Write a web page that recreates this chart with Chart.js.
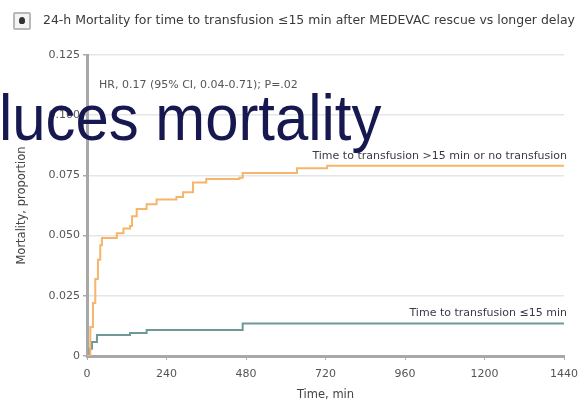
<!DOCTYPE html>
<html>
<head>
<meta charset="utf-8">
<script src="https://cdn.jsdelivr.net/npm/chart.js@4.4.1/dist/chart.umd.min.js"></script>
<style>
  html, body { margin: 0; padding: 0; background: #fff; }
  #wrap { position: relative; width: 578px; height: 402px; overflow: hidden; }
  canvas { position: absolute; left: 0; top: 0; }
  #icon { position: absolute; left: 13px; top: 12px; width: 14px; height: 14px;
          border: 2px solid #b8b8b8; border-radius: 2px; background: #f4f4f4; }
  #icon::after { content: ""; position: absolute; left: 4px; top: 3px; width: 6px; height: 7px;
          background: #333; border-radius: 50% 50% 40% 40%; }
  #title { position: absolute; left: 43px; top: 13px; font-family: "DejaVu Sans", Verdana, sans-serif;
           font-size: 11px; line-height: 14px; color: #3a3a3a; white-space: nowrap; }
  #overlay { position: absolute; left: -1px; top: 85px; font-family: "Liberation Sans", Arial, sans-serif;
             font-size: 65px; line-height: 65px; color: #17184f; white-space: nowrap;
             transform-origin: 0 0; }
</style>
</head>
<body>
<div id="wrap">
  <canvas id="c" width="578" height="402"></canvas>
  <div id="icon"></div>
  <div id="title">24-h Mortality for time to transfusion ≤15 min after MEDEVAC rescue vs longer delay</div>
  <div id="overlay">luces mortality</div>
</div>
<script>
// Cumulative 24-h mortality, step curves (time in minutes, proportion dead)
const lateTimes  = [0, 10, 18, 25, 33, 40, 45, 90, 110, 130, 136, 150, 180, 210, 270, 290, 320, 360, 460, 470, 634, 725, 1440];
const lateValues = [0, 0.012, 0.022, 0.032, 0.040, 0.046, 0.049, 0.051, 0.053, 0.054, 0.058, 0.061, 0.063, 0.065, 0.066, 0.068, 0.072, 0.0735, 0.074, 0.076, 0.078, 0.079, 0.079];
const earlyTimes  = [0, 8, 15, 30, 130, 180, 470, 1440];
const earlyValues = [0, 0.003, 0.0058, 0.0087, 0.0095, 0.0108, 0.0135, 0.0135];

const xTicks = [0, 240, 480, 720, 960, 1200, 1440];
const yTicks = [0, 0.025, 0.05, 0.075, 0.1, 0.125];

const lateLabel  = 'Time to transfusion >15 min or no transfusion';
const earlyLabel = 'Time to transfusion ≤15 min';
const hrText     = 'HR, 0.17 (95% CI, 0.04-0.71); P=.02';

const toPoints = (xs, ys) => xs.map((x, i) => ({ x, y: ys[i] }));

const lateColor = '#f5b56a';
const earlyColor = '#6f9898';
const FONT = '"DejaVu Sans", Verdana, sans-serif';

// Stretch the header line and the large caption to their widths
const title = document.getElementById('title');
title.style.fontSize = (11 * 532 / title.offsetWidth) + 'px';
const overlay = document.getElementById('overlay');
overlay.style.transform = 'scaleX(' + (382 / overlay.offsetWidth) + ')';

// Draws the curve labels at the end of each line and the hazard ratio note
const curveLabels = {
  id: 'curveLabels',
  afterDatasetsDraw(chart) {
    const { ctx, scales: { x, y }, chartArea } = chart;
    ctx.save();
    ctx.font = '11px ' + FONT;
    ctx.fillStyle = '#3a3a4a';
    ctx.textAlign = 'right';
    ctx.textBaseline = 'middle';
    const xr = x.getPixelForValue(1440) + 3;
    ctx.fillText(lateLabel, xr, y.getPixelForValue(lateValues[lateValues.length - 1]) - 10, 262);
    ctx.fillText(earlyLabel, xr, y.getPixelForValue(earlyValues[earlyValues.length - 1]) - 10, 164);
    ctx.textAlign = 'left';
    ctx.fillStyle = '#555';
    ctx.font = '11px ' + FONT;
    ctx.fillText(hrText, chartArea.left + 12, chartArea.top + 30, 212);
    ctx.restore();
  }
};

new Chart(document.getElementById('c'), {
  type: 'line',
  data: {
    datasets: [
      { data: toPoints(lateTimes, lateValues), borderColor: lateColor, borderWidth: 2,
        stepped: true, pointRadius: 0, fill: false },
      { data: toPoints(earlyTimes, earlyValues), borderColor: earlyColor, borderWidth: 2,
        stepped: true, pointRadius: 0, fill: false }
    ]
  },
  options: {
    responsive: false,
    animation: false,
    layout: { padding: { top: 55, right: 14, left: 0, bottom: 0 } },
    plugins: { legend: { display: false }, tooltip: { enabled: false } },
    scales: {
      x: {
        type: 'linear', min: 0, max: 1440,
        afterBuildTicks: s => { s.ticks = xTicks.map(v => ({ value: v })); },
        afterFit: s => { s.height = 46; s.paddingLeft = 0; s.paddingRight = 0; },
        ticks: { font: { family: FONT, size: 11 }, color: '#555', padding: 8, maxRotation: 0,
                 callback: v => String(v) },
        grid: { drawOnChartArea: false, drawTicks: true, tickLength: 4, color: '#aaa' },
        border: { color: '#a8a8a8', width: 3 },
        title: { display: true, text: 'Time, min', font: { family: FONT, size: 11.5 },
                 color: '#444', padding: { top: 0, bottom: 0 } }
      },
      y: {
        min: 0, max: 0.125,
        afterBuildTicks: s => { s.ticks = yTicks.map(v => ({ value: v })); },
        afterFit: s => { s.width = 87; s.paddingTop = 0; s.paddingBottom = 0; },
        ticks: { font: { family: FONT, size: 11 }, color: '#555', padding: 3,
                 callback: v => v === 0 ? '0' : v.toFixed(3) },
        grid: { color: '#e6e6e6', lineWidth: 1.5, tickLength: 4, tickColor: '#aaa' },
        border: { color: '#a8a8a8', width: 3 },
        title: { display: true, text: 'Mortality, proportion', font: { family: FONT, size: 11.5 },
                 color: '#444', padding: { top: 15, bottom: 0 } }
      }
    }
  },
  plugins: [curveLabels]
});
</script>
</body>
</html>
